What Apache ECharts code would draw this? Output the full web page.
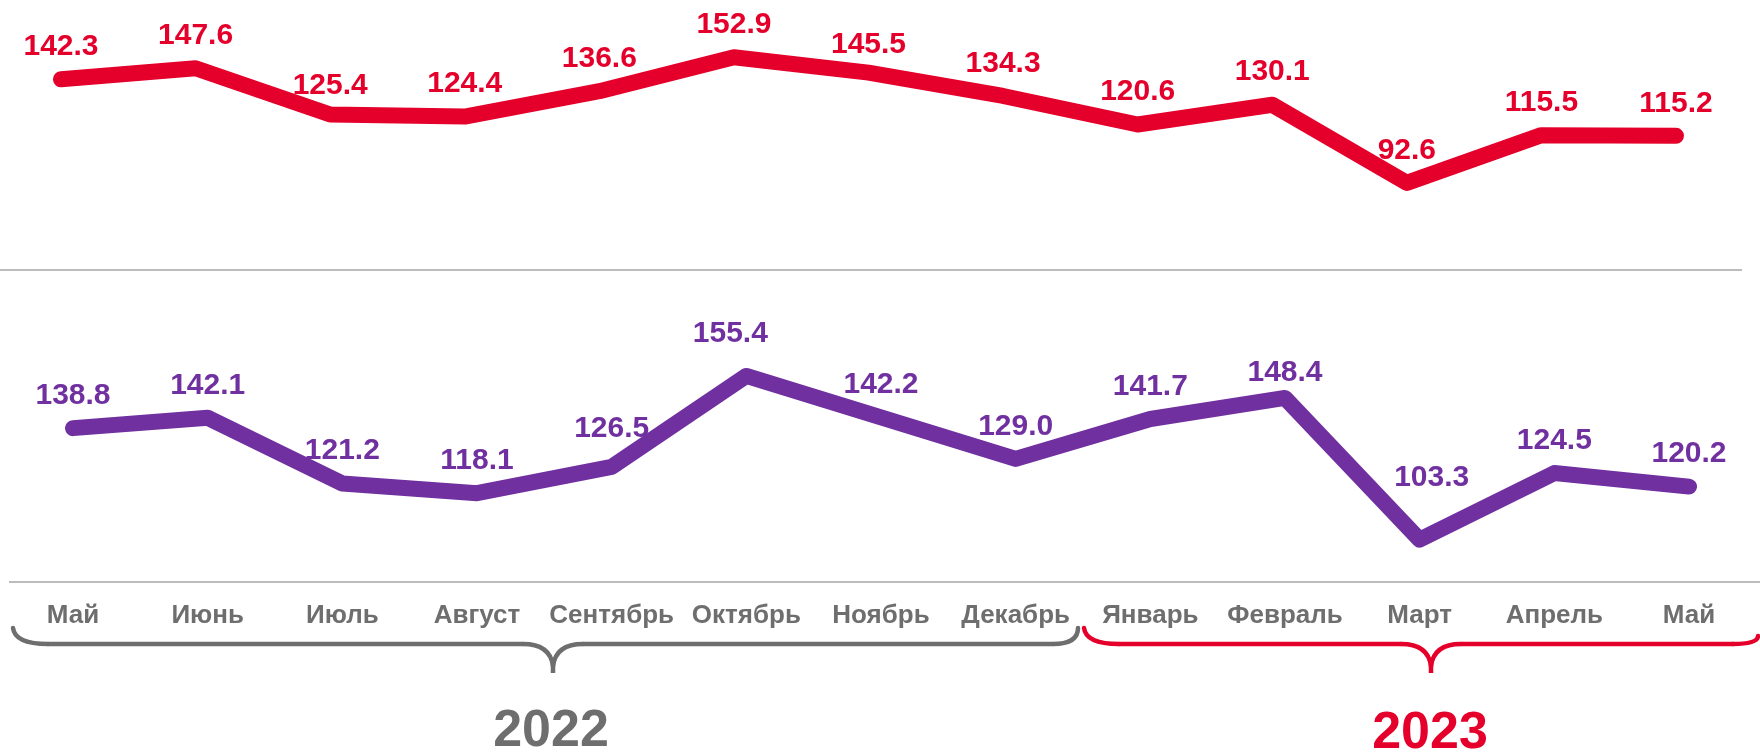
<!DOCTYPE html>
<html>
<head>
<meta charset="utf-8">
<script src="https://cdn.jsdelivr.net/npm/echarts@6.0.0/dist/echarts.min.js"></script>
<style>
  html, body { margin: 0; padding: 0; background: #fff; }
  #chart { width: 1760px; height: 753px; }
</style>
</head>
<body>
<div id="chart"></div>
<script>
// months, May 2022 .. May 2023
const months = ['Май', 'Июнь', 'Июль', 'Август', 'Сентябрь', 'Октябрь', 'Ноябрь',
  'Декабрь', 'Январь', 'Февраль', 'Март', 'Апрель', 'Май'];
const redValues = [142.3, 147.6, 125.4, 124.4, 136.6, 152.9, 145.5, 134.3, 120.6, 130.1, 92.6, 115.5, 115.2];
const purpleValues = [138.8, 142.1, 121.2, 118.1, 126.5, 155.4, 142.2, 129.0, 141.7, 148.4, 103.3, 124.5, 120.2];
const years = ['2022', '2023'];

const RED = '#e4002b';
const PURPLE = '#7030a0';
const GRAY = '#6e6e6e';
const FONT = '"Liberation Sans", Arial, sans-serif';

// a few labels sit off the default spot: [distance, dx]
const redLabelTweak = { 2: [13, 0], 6: [12, 0] };
const purpleLabelTweak = { 4: [23, 0], 5: [27, -16], 9: [10, 0], 10: [46, 12] };

function withLabels(values, tweaks) {
    return values.map((v, i) => tweaks[i] ? { value: v, label: { distance: tweaks[i][0], offset: [tweaks[i][1], 0] } } : v);
}

// curly brace under the month labels: left end, tip, right end
function brace(x1, xm, x2, color, rightEndY) {
    const y0 = 628, y = 644, yt = 666;
    const st = { stroke: color, lineWidth: 4.5, fill: null, lineCap: 'round' };
    return [
        { type: 'bezierCurve', shape: { x1: x1, y1: y0, cpx1: x1 + 2, cpy1: y, x2: x1 + 35, y2: y }, style: st },
        { type: 'line', shape: { x1: x1 + 35, y1: y, x2: xm - 30, y2: y }, style: st },
        { type: 'bezierCurve', shape: { x1: xm - 30, y1: y, cpx1: xm - 3, cpy1: y, x2: xm, y2: yt }, style: st },
        { type: 'bezierCurve', shape: { x1: xm, y1: yt, cpx1: xm + 3, cpy1: y, x2: xm + 30, y2: y }, style: st },
        { type: 'line', shape: { x1: xm + 30, y1: y, x2: x2 - 25, y2: y }, style: st },
        { type: 'bezierCurve', shape: { x1: x2 - 25, y1: y, cpx1: x2, cpy1: y, x2: x2, y2: rightEndY }, style: st },
        { type: 'line', shape: { x1: xm, y1: 660, x2: xm, y2: 673 }, style: Object.assign({}, st, { lineCap: 'butt' }) }
    ];
}

function lineSeries(axis, values, tweaks, color) {
    return {
        type: 'line',
        xAxisIndex: axis,
        yAxisIndex: axis,
        data: withLabels(values, tweaks),
        symbol: 'circle',
        symbolSize: 1,
        itemStyle: { color: color },
        lineStyle: { color: color, width: 16, cap: 'round', join: 'round' },
        label: {
            show: true,
            position: 'top',
            distance: 17,
            color: color,
            fontSize: 30,
            fontWeight: 'bold',
            fontFamily: FONT,
            formatter: p => p.value.toFixed(1)
        }
    };
}

const chart = echarts.init(document.getElementById('chart'));

const option = {
    animation: false,
    grid: [
        { left: 61, right: 84, top: 42.4, height: 208.4 },
        { left: 73, right: 71, top: 361.5, height: 220 }
    ],
    xAxis: [
        {
            gridIndex: 0,
            type: 'category',
            data: months,
            boundaryGap: false,
            axisLine: { show: false },
            axisTick: { show: false },
            axisLabel: { show: false }
        },
        {
            gridIndex: 1,
            type: 'category',
            data: months,
            boundaryGap: false,
            axisLine: { show: false },
            axisTick: { show: false },
            axisLabel: {
                interval: 0,
                margin: 21,
                color: GRAY,
                fontSize: 26,
                fontWeight: 'bold',
                fontFamily: FONT
            }
        }
    ],
    yAxis: [
        { gridIndex: 0, type: 'value', min: 60, max: 160, show: false },
        { gridIndex: 1, type: 'value', min: 90, max: 160, show: false }
    ],
    series: [
        lineSeries(0, redValues, redLabelTweak, RED),
        lineSeries(1, purpleValues, purpleLabelTweak, PURPLE)
    ],
    graphic: [
        // separators
        { type: 'line', shape: { x1: 0, y1: 270, x2: 1742, y2: 270 }, style: { stroke: '#a6a6a6', lineWidth: 1.5 } },
        { type: 'line', shape: { x1: 9, y1: 582, x2: 1760, y2: 582 }, style: { stroke: '#a6a6a6', lineWidth: 1.5 } }
    ].concat(
        brace(13, 553, 1078, GRAY, 628),
        brace(1084, 1431, 1758, RED, 636),
        [
            {
                type: 'text', x: 551, y: 732,
                style: { text: years[0], fill: GRAY, font: 'bold 52px ' + FONT, align: 'center', verticalAlign: 'middle' }
            },
            {
                type: 'text', x: 1430, y: 734,
                style: { text: years[1], fill: RED, font: 'bold 52px ' + FONT, align: 'center', verticalAlign: 'middle' }
            }
        ]
    )
};

chart.setOption(option);
</script>
</body>
</html>
